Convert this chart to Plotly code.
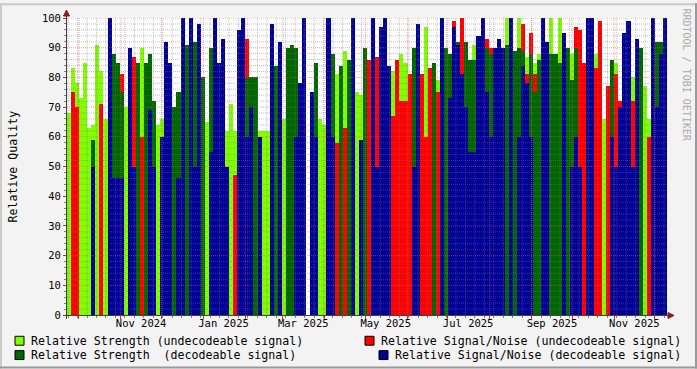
import plotly.graph_objects as go
from datetime import datetime, timedelta

# ---------------- data (3-day bins, values in %) ----------------
START = datetime(2024, 9, 22, 4, 0)
END = START + timedelta(days=444)
BIN_DAYS = 3

strength_undecodeable = [
    68, 83, 78, 73, 85, 63, 64, 91, 82, 66,
    0, 0, 0, 0, 70, 0, 66, 64, 90, 66,
    0, 64, 64, 66, 0, 0, 64, 0, 0, 0,
    0, 0, 0, 64, 65, 0, 0, 62, 0, 62,
    71, 62, 0, 0, 0, 0, 62, 62, 62, 62,
    0, 63, 0, 66, 0, 0, 0, 65, 0, 0,
    0, 0, 66, 64, 0, 0, 81, 79, 89, 0,
    0, 75, 74, 83, 0, 0, 0, 65, 0, 0,
    82, 80, 88, 85, 0, 0, 0, 70, 97, 0,
    0, 79, 0, 0, 0, 0, 0, 0, 68, 63,
    91, 0, 0, 0, 0, 0, 0, 86, 100, 0,
    0, 100, 0, 87, 0, 85, 88, 0, 0, 100,
    0, 100, 0, 88, 88, 0, 0, 80, 0, 0,
    88, 66, 66, 70, 85, 85, 0, 0, 0, 80,
    0, 66, 77, 66, 0, 0, 0, 0,
]
snr_undecodeable = [
    0, 75, 70, 0, 0, 0, 0, 0, 71, 0,
    80, 0, 0, 81, 0, 81, 87, 0, 60, 0,
    0, 0, 0, 0, 0, 70, 0, 0, 0, 0,
    0, 0, 0, 0, 0, 0, 0, 0, 0, 0,
    0, 47, 0, 0, 93, 0, 0, 0, 0, 0,
    0, 0, 0, 0, 0, 0, 0, 0, 0, 0,
    0, 0, 0, 0, 0, 0, 58, 0, 63, 0,
    0, 0, 0, 0, 86, 0, 87, 0, 0, 0,
    67, 86, 72, 72, 81, 0, 0, 81, 60, 83,
    0, 75, 0, 79, 0, 99, 80, 100, 0, 0,
    0, 0, 0, 93, 90, 0, 77, 0, 0, 0,
    78, 0, 98, 81, 95, 81, 0, 0, 0, 0,
    0, 0, 0, 0, 0, 97, 96, 85, 0, 0,
    83, 99, 0, 77, 0, 81, 72, 0, 0, 72,
    0, 0, 0, 60, 0, 0, 0, 53,
]
strength_decodeable = [
    0, 0, 0, 0, 0, 0, 59, 0, 0, 0,
    0, 88, 85, 75, 0, 0, 0, 85, 0, 85,
    88, 72, 0, 0, 0, 0, 70, 75, 0, 91,
    75, 92, 0, 80, 0, 90, 88, 0, 0, 0,
    0, 0, 80, 0, 80, 80, 80, 0, 0, 0,
    90, 84, 0, 0, 90, 91, 90, 0, 0, 0,
    0, 85, 0, 0, 0, 88, 0, 84, 0, 86,
    0, 0, 0, 90, 0, 0, 0, 0, 0, 0,
    0, 0, 0, 0, 0, 90, 92, 0, 0, 0,
    85, 0, 88, 90, 88, 0, 92, 0, 92, 86,
    86, 0, 0, 90, 88, 85, 85, 90, 91, 0,
    89, 90, 89, 0, 88, 75, 86, 88, 0, 88,
    88, 85, 90, 90, 79, 90, 0, 0, 90, 75,
    0, 0, 0, 0, 86, 0, 69, 90, 92, 0,
    93, 90, 0, 0, 88, 92, 92, 0,
]
snr_decodeable = [
    0, 0, 0, 0, 0, 0, 50, 0, 0, 0,
    100, 46, 46, 46, 0, 90, 50, 0, 0, 0,
    69, 50, 0, 60, 92, 85, 0, 46, 100, 0,
    100, 50, 98, 0, 0, 55, 100, 85, 93, 50,
    0, 0, 96, 100, 60, 70, 0, 60, 0, 0,
    98, 0, 92, 0, 0, 0, 60, 78, 100, 0,
    75, 60, 0, 0, 100, 60, 0, 0, 0, 0,
    100, 0, 59, 0, 0, 100, 50, 97, 100, 84,
    0, 0, 0, 0, 0, 50, 98, 0, 0, 0,
    0, 0, 100, 0, 73, 97, 91, 81, 70, 55,
    55, 94, 100, 75, 60, 90, 93, 90, 0, 100,
    0, 60, 84, 78, 60, 0, 0, 100, 92, 0,
    0, 0, 95, 0, 50, 60, 50, 0, 100, 100,
    0, 0, 0, 0, 60, 50, 70, 95, 99, 50,
    93, 0, 0, 0, 100, 70, 88, 100,
]

series_names = [
    "Relative Strength (undecodeable signal)",
    "Relative Signal/Noise (undecodeable signal)",
    "Relative Strength  (decodeable signal)",
    "Relative Signal/Noise (decodeable signal)",
]
series_colors = ["#80FF00", "#FF0000", "#006600", "#000099"]

label_months = [(2024, 11), (2025, 1), (2025, 3), (2025, 5), (2025, 7), (2025, 9), (2025, 11)]
month_abbr = ["Jan", "Feb", "Mar", "Apr", "May", "Jun", "Jul", "Aug", "Sep", "Oct", "Nov", "Dec"]

# ---------------- figure ----------------
W, H = 697, 369
PL, PR, PT, PB = 67, 667, 15, 315
FONT = "DejaVu Sans Mono"


def px(x):
    return (x - PL) / (PR - PL)


def py(y):
    return (PB - y) / (PB - PT)


fig = go.Figure()
all_series = [strength_undecodeable, snr_undecodeable, strength_decodeable, snr_decodeable]
xc = [START + timedelta(days=BIN_DAYS * (k + 0.5)) for k in range(len(strength_undecodeable))]
for name, vals, col in zip(series_names, all_series, series_colors):
    fig.add_trace(go.Bar(
        x=xc, y=[v if v else None for v in vals], width=BIN_DAYS * 86400000,
        marker=dict(color=col, line=dict(width=0)), name=name, hoverinfo="skip",
    ))
# helper trace for the tick-mark axis
fig.add_trace(go.Scatter(x=[START], y=[None], xaxis="x2", showlegend=False, hoverinfo="skip"))

# grid positions
mondays = []
d = datetime(2024, 9, 23)
while d < END:
    mondays.append(d)
    d += timedelta(days=7)
month_starts = []
y_, m_ = 2024, 10
while datetime(y_, m_, 1) < END:
    month_starts.append(datetime(y_, m_, 1))
    m_ += 1
    if m_ > 12:
        m_, y_ = 1, y_ + 1

MINOR = "rgba(120,120,120,0.45)"
MAJOR = "rgba(230,90,90,0.55)"
shapes = []
for v in range(2, 101, 2):
    shapes.append(dict(type="line", xref="paper", yref="y", x0=0, x1=1, y0=v, y1=v, layer="above",
                       line=dict(color=MAJOR if v % 10 == 0 else MINOR, width=1, dash="1px,1px")))
for dd in mondays:
    shapes.append(dict(type="line", xref="x", yref="paper", x0=dd, x1=dd, y0=0, y1=1, layer="above",
                       line=dict(color=MINOR, width=1, dash="1px,1px")))
for dd in month_starts:
    shapes.append(dict(type="line", xref="x", yref="paper", x0=dd, x1=dd, y0=0, y1=1, layer="above",
                       line=dict(color=MAJOR, width=1, dash="1px,1px")))

AX = "#404040"
ARROW = "#8B1A1A"
# axes lines
shapes.append(dict(type="line", xref="paper", yref="paper", x0=px(63), x1=px(669), y0=py(315.5), y1=py(315.5),
                   layer="above", line=dict(color=AX, width=1)))
shapes.append(dict(type="line", xref="paper", yref="paper", x0=px(66.5), x1=px(66.5), y0=py(319), y1=py(10),
                   layer="above", line=dict(color=AX, width=1)))
# arrows
shapes.append(dict(type="path", xref="paper", yref="paper", layer="above",
                   path=f"M {px(66.5)} {py(7)} L {px(63.5)} {py(13)} L {px(69.5)} {py(13)} Z",
                   fillcolor=ARROW, line=dict(color=ARROW, width=1)))
shapes.append(dict(type="path", xref="paper", yref="paper", layer="above",
                   path=f"M {px(674)} {py(315.5)} L {px(668)} {py(312.5)} L {px(668)} {py(318.5)} Z",
                   fillcolor=ARROW, line=dict(color=ARROW, width=1)))
# frame shading
shapes.append(dict(type="rect", xref="paper", yref="paper", x0=px(0), x1=px(W), y0=py(0), y1=py(2),
                   fillcolor="#cbcbcb", line=dict(width=0), layer="above"))
shapes.append(dict(type="rect", xref="paper", yref="paper", x0=px(0), x1=px(2), y0=py(0), y1=py(H),
                   fillcolor="#cbcbcb", line=dict(width=0), layer="above"))
shapes.append(dict(type="rect", xref="paper", yref="paper", x0=px(0), x1=px(W), y0=py(H - 2), y1=py(H),
                   fillcolor="#999999", line=dict(width=0), layer="above"))
shapes.append(dict(type="rect", xref="paper", yref="paper", x0=px(W - 2), x1=px(W), y0=py(0), y1=py(H),
                   fillcolor="#999999", line=dict(width=0), layer="above"))

# legend boxes + text
annotations = []
legend_items = [
    (15, 30, 341, 0),
    (365, 380, 341, 1),
    (15, 30, 355.5, 2),
    (379, 394, 355.5, 3),
]
for bx, tx, cy, i in legend_items:
    shapes.append(dict(type="rect", xref="paper", yref="paper", x0=px(bx), x1=px(bx + 9),
                       y0=py(cy - 4.5), y1=py(cy + 4.5), fillcolor=series_colors[i],
                       line=dict(color="#000000", width=1), layer="above"))
    annotations.append(dict(xref="paper", yref="paper", x=px(tx), y=py(cy), xanchor="left", yanchor="middle",
                            text=series_names[i].replace(" ", "&nbsp;"), showarrow=False,
                            font=dict(family=FONT, size=11.6, color="#000000"), borderpad=0))

annotations.append(dict(xref="paper", yref="paper", x=px(12), y=py(165), text="Relative Quality",
                        textangle=-90, showarrow=False, xanchor="center", yanchor="middle",
                        font=dict(family=FONT, size=11.6, color="#000000")))
annotations.append(dict(xref="paper", yref="paper", x=px(687), y=py(72), text="RRDTOOL / TOBI OETIKER",
                        textangle=90, showarrow=False, xanchor="center", yanchor="middle",
                        font=dict(family=FONT, size=10, color="#aaaaaa")))

fig.update_layout(
    width=W, height=H,
    margin=dict(l=PL, r=W - PR, t=PT, b=H - PB),
    paper_bgcolor="#f3f3f3", plot_bgcolor="#ffffff",
    barmode="overlay", bargap=0, showlegend=False,
    font=dict(family=FONT, size=10.5, color="#000000"),
    shapes=shapes, annotations=annotations,
    xaxis=dict(type="date", range=[START, END], showgrid=False, zeroline=False, showline=False,
               tickmode="array",
               tickvals=[datetime(yy, mm, 16) for yy, mm in label_months],
               ticktext=[f"{month_abbr[mm - 1]} {yy}" for yy, mm in label_months],
               ticks="", tickfont=dict(family=FONT, size=10.5, color="#000000")),
    xaxis2=dict(type="date", overlaying="x", matches="x", anchor="y", side="bottom",
                showgrid=False, zeroline=False, showline=False, showticklabels=False,
                tickmode="array", tickvals=month_starts, ticks="outside", ticklen=3,
                tickcolor="#c03030", tickwidth=1,
                minor=dict(tickvals=mondays, ticks="outside", ticklen=2, tickcolor="#808080")),
    yaxis=dict(range=[0, 100], showgrid=False, zeroline=False, showline=False,
               tickmode="array", tickvals=list(range(0, 101, 10)),
               ticks="outside", ticklen=3, tickcolor="#c03030", tickwidth=1,
               minor=dict(dtick=2, ticks="outside", ticklen=2, tickcolor="#808080"),
               tickfont=dict(family=FONT, size=10.5, color="#000000")),
)

fig.write_html(
    "out.html",
    config={"displayModeBar": False, "staticPlot": True},
    post_script="document.body.style.margin='0';document.body.style.padding='0';"
                "document.documentElement.style.overflow='hidden';",
)
